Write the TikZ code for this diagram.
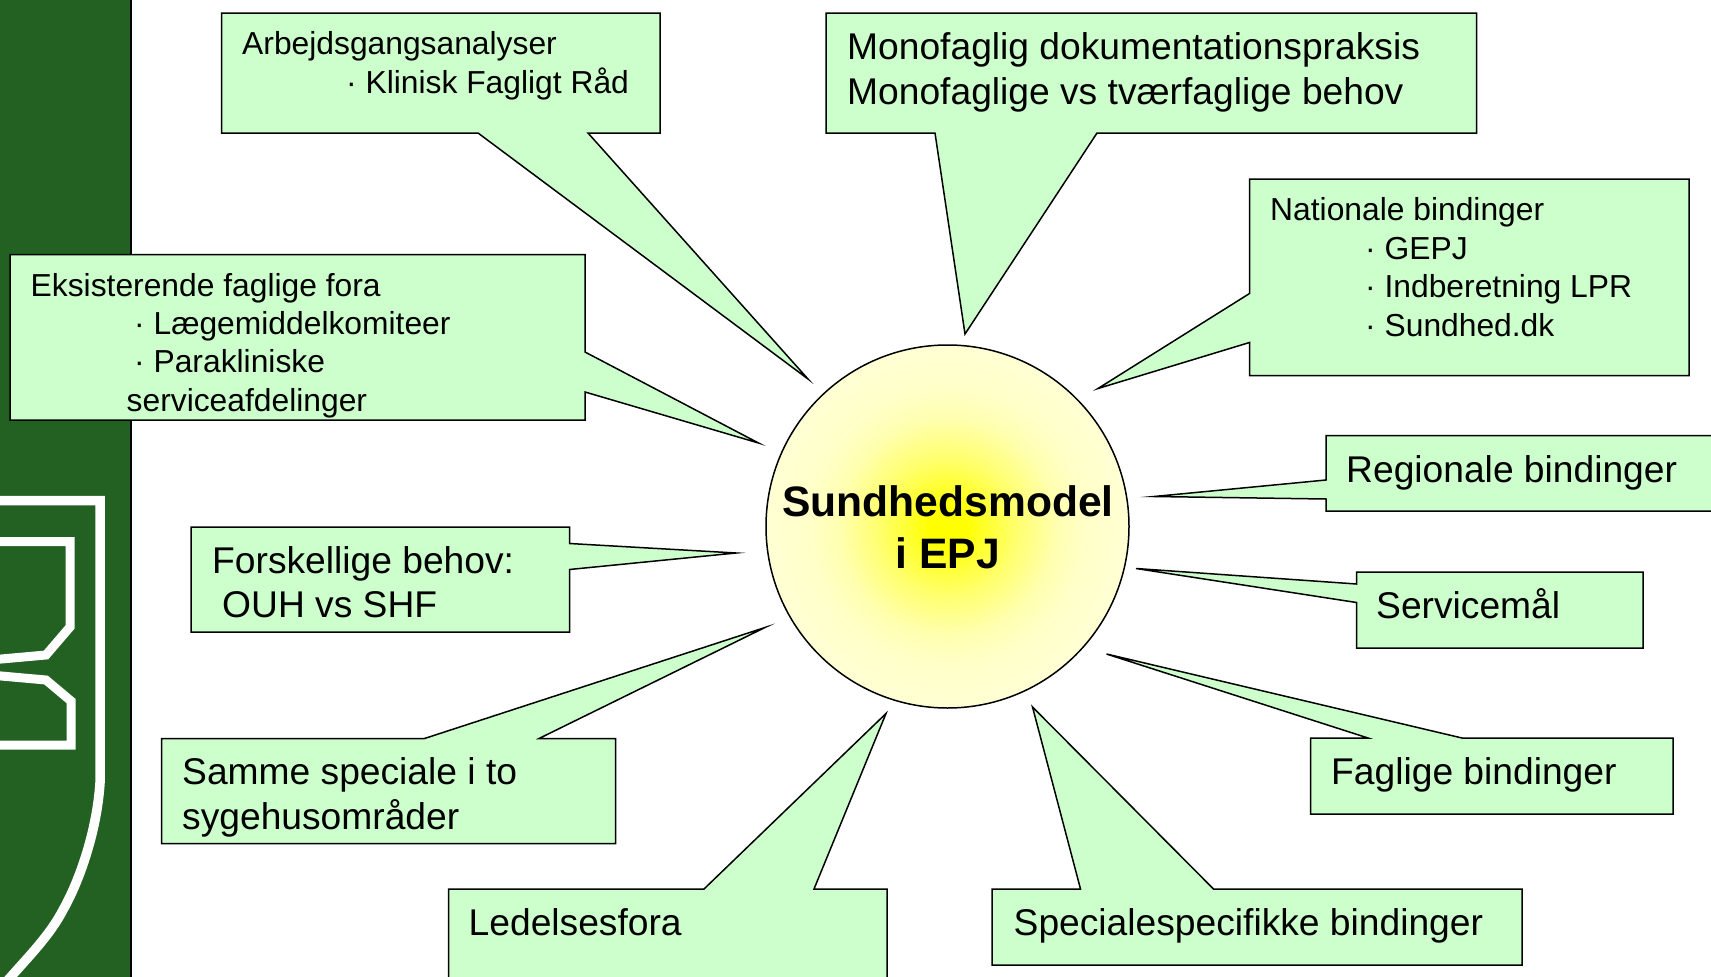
\documentclass[tikz,border=0pt]{standalone}
\usepackage{fontspec}
\setmainfont{Liberation Sans}
\definecolor{band}{HTML}{236123}
\definecolor{callfill}{HTML}{CCFFCC}
\definecolor{sunmid}{HTML}{FFFFC8}
\definecolor{sunrim}{HTML}{FFFFD4}
\pgfdeclareradialshading{sunglow}{\pgfpoint{0bp}{0bp}}{
  color(0bp)=(yellow);
  color(2.5bp)=(yellow);
  color(5.5bp)=(yellow!75!sunmid);
  color(9.5bp)=(yellow!45!sunmid);
  color(15bp)=(yellow!12!sunmid);
  color(19bp)=(sunmid);
  color(25bp)=(sunrim);
  color(50bp)=(sunrim)}
\tikzset{
  callout/.style={draw=black,line width=1.5pt,fill=callfill,line join=miter,miter limit=20},
  crest/.style={draw=white,line width=9.5pt,line join=miter},
  big/.style={anchor=base west,inner sep=0pt,font=\fontsize{37.2}{44}\selectfont},
  small/.style={anchor=base west,inner sep=0pt,font=\fontsize{31.8}{38}\selectfont},
  sunlabel/.style={anchor=base,inner sep=0pt,font=\fontsize{42.6}{50}\selectfont\bfseries}
}
\begin{document}
\begin{tikzpicture}[x=1pt,y=-1pt]
\useasboundingbox (0,0) rectangle (1711,977);
\clip (0,0) rectangle (1711,977);
\fill[white] (0,0) rectangle (1711,977);
% left band with crest
\fill[band] (0,0) rectangle (131,977);
\draw[black,line width=1.5pt] (131,0) -- (131,977);
\draw[crest] (-10,500.5) -- (100,500.5) -- (100,783)
  .. controls (97,830) and (80,880) .. (63,910)
  .. controls (50,935) and (30,955) .. (8,980);
\draw[crest,line width=9pt] (-10,541.5) -- (70,541.5) -- (70,627) -- (46,655) -- (-10,660);
\draw[crest,line width=9pt] (-10,675) -- (46,680) -- (71,701) -- (71,745) -- (-10,745);
% callouts
\draw[callout] (221.5,13) -- (660,13) -- (660,133) -- (588,133) -- (808,379) -- (478,133) -- (221.5,133) -- cycle;
\draw[callout] (826,13) -- (1476.5,13) -- (1476.5,133) -- (1097,133) -- (965,334) -- (935,133) -- (826,133) -- cycle;
\draw[callout] (1249.5,179) -- (1689,179) -- (1689,375.5) -- (1249.5,375.5) -- (1249.5,342.5) -- (1098,388.5) -- (1249.5,293.5) -- cycle;
\draw[callout] (1326,435.5) -- (1720,435.5) -- (1720,511) -- (1326,511) -- (1326,499) -- (1154,496.5) -- (1326,480) -- cycle;
\draw[callout] (1356.5,572) -- (1643,572) -- (1643,648) -- (1356.5,648) -- (1356.5,602.5) -- (1136,568.5) -- (1356.5,584) -- cycle;
\draw[callout] (1310.5,738) -- (1368,738) -- (1106.5,654) -- (1462,738) -- (1673,738) -- (1673,814) -- (1310.5,814) -- cycle;
\draw[callout] (992,889) -- (1080.5,889) -- (1032.5,707) -- (1213.5,889) -- (1522,889) -- (1522,965) -- (992,965) -- cycle;
\draw[callout] (448.5,889) -- (704,889) -- (886,713.5) -- (814,889) -- (887,889) -- (887,990) -- (448.5,990) -- cycle;
\draw[callout] (161.5,738.5) -- (424.5,738.5) -- (765,627.5) -- (539,738.5) -- (615.5,738.5) -- (615.5,843.5) -- (161.5,843.5) -- cycle;
\draw[callout] (191,527) -- (569.5,527) -- (569.5,543.5) -- (736,553) -- (569.5,569.5) -- (569.5,632) -- (191,632) -- cycle;
\draw[callout] (10,254.5) -- (585,254.5) -- (585,352) -- (758.5,443) -- (585,392) -- (585,420) -- (10,420) -- cycle;
% centre
\node[circle,draw=black,line width=1.5pt,minimum size=363pt,inner sep=0pt,shading=sunglow] (sun) at (947.5,526.5) {};
\node[sunlabel] (sunA) at (948,516.5) {Sundhedsmodel};
\node[sunlabel] (sunB) at (948,568) {i EPJ};
% texts
\node[small] (a1) at (242,54.5) {Arbejdsgangsanalyser};
\node[small] (a2) at (346,93) {· Klinisk Fagligt Råd};
\node[big] (b1) at (847,59.5) {Monofaglig dokumentationspraksis};
\node[big] (b2) at (847,104) {Monofaglige vs tværfaglige behov};
\node[small] (c1) at (1270,220) {Nationale bindinger};
\node[small] (c2) at (1365,259) {· GEPJ};
\node[small] (c3) at (1365,297) {· Indberetning LPR};
\node[small] (c4) at (1365,336) {· Sundhed.dk};
\node[big] (d1) at (1346,482) {Regionale bindinger};
\node[big] (e1) at (1376,618.5) {Servicemål};
\node[big] (f1) at (1331,784.5) {Faglige bindinger};
\node[big] (g1) at (1013.5,935) {Specialespecifikke bindinger};
\node[big] (h1) at (468.5,935) {Ledelsesfora};
\node[big] (i1) at (182,784.5) {Samme speciale i to};
\node[big] (i2) at (182,829) {sygehusområder};
\node[big] (j1) at (212,573) {Forskellige behov:};
\node[big] (j2) at (222,617.5) {OUH vs SHF};
\node[small] (k1) at (30.5,296) {Eksisterende faglige fora};
\node[small] (k2) at (134,334.5) {· Lægemiddelkomiteer};
\node[small] (k3) at (134,372) {· Parakliniske};
\node[small] (k4) at (126.5,411) {serviceafdelinger};
\end{tikzpicture}
\end{document}
